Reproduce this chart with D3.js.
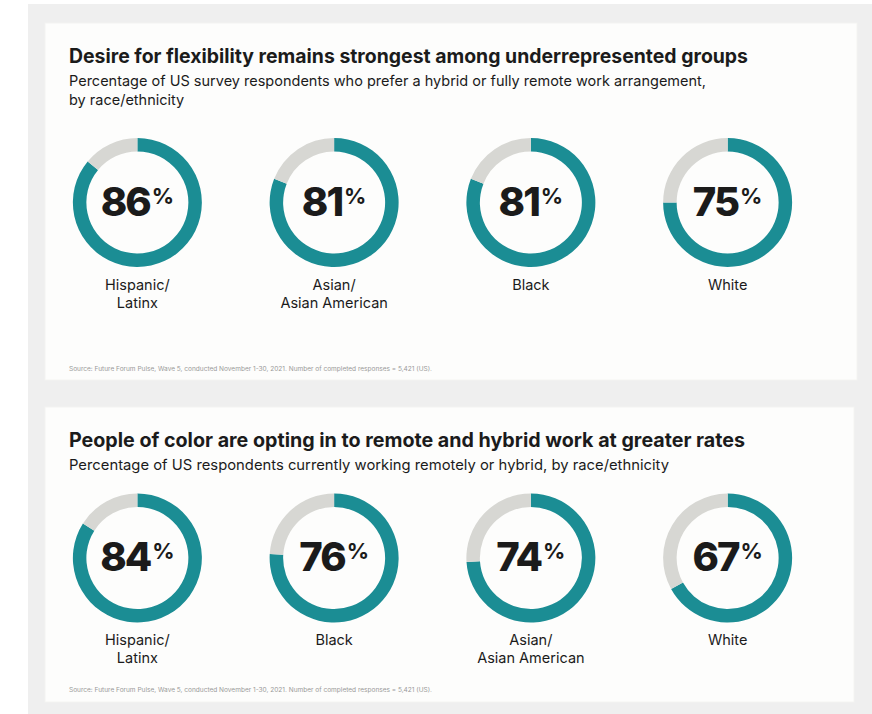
<!DOCTYPE html>
<html>
<head>
<meta charset="utf-8">
<script src="https://cdn.jsdelivr.net/npm/d3@7/dist/d3.min.js"></script>
<style>
  html, body { margin: 0; padding: 0; background: #ffffff; }
  svg { display: block; }
  text { font-family: Inter, "Noto Sans", sans-serif; fill: #1b1b1b; }
</style>
</head>
<body>
<svg id="chart" width="872" height="714"></svg>
<script>
// ---- data ----
const titles = [
  "Desire for flexibility remains strongest among underrepresented groups",
  "People of color are opting in to remote and hybrid work at greater rates"
];
const subtitles = [
  ["Percentage of US survey respondents who prefer a hybrid or fully remote work arrangement,", "by race/ethnicity"],
  ["Percentage of US respondents currently working remotely or hybrid, by race/ethnicity"]
];
const groupsPreferFlexible = ["Hispanic/\nLatinx", "Asian/\nAsian American", "Black", "White"];
const sharePreferFlexible = [86, 81, 81, 75];
const groupsWorkingFlexible = ["Hispanic/\nLatinx", "Black", "Asian/\nAsian American", "White"];
const shareWorkingFlexible = [84, 76, 74, 67];
const sourceNote = "Source: Future Forum Pulse, Wave 5, conducted November 1-30, 2021. Number of completed responses = 5,421 (US).";

// ---- layout ----
const svg = d3.select("#chart");
const TEAL = "#1b8d94", REST = "#d7d7d3";

svg.append("rect").attr("x", 28).attr("y", 4).attr("width", 844).attr("height", 710).attr("fill", "#efefef");

const panels = [
  { y: 23, h: 357, w: 812, title: titles[0], sub: subtitles[0], cats: groupsPreferFlexible, vals: sharePreferFlexible,
    titleY: 63, titleW: 679, subY: 86, subW: 637, donutY: 202.5, labelY: 290, noteY: 371 },
  { y: 407, h: 295, w: 809, title: titles[1], sub: subtitles[1], cats: groupsWorkingFlexible, vals: shareWorkingFlexible,
    titleY: 447, titleW: 676, subY: 470, subW: 600, donutY: 558, labelY: 645, noteY: 692 }
];

const x = d3.scaleBand().domain(d3.range(4)).range([39, 826]);
const outerR = 64.5, innerR = 51;
const arc = d3.arc().innerRadius(innerR).outerRadius(outerR);
const pie = d3.pie().sort(null).value(d => d.v);

panels.forEach(p => {
  const g = svg.append("g");
  g.append("rect").attr("x", 45).attr("y", p.y).attr("width", p.w).attr("height", p.h)
    .attr("fill", "#fdfdfc").attr("stroke", "#f4f4f2").attr("stroke-width", 1);

  g.append("text").attr("x", 69).attr("y", p.titleY)
    .attr("font-size", 19.5).attr("font-weight", 700)
    .attr("textLength", p.titleW).attr("lengthAdjust", "spacingAndGlyphs")
    .text(p.title);

  p.sub.forEach((line, i) => {
    const t = g.append("text").attr("x", 69).attr("y", p.subY + i * 19)
      .attr("font-size", 14.5).text(line);
    if (i === 0) t.attr("textLength", p.subW).attr("lengthAdjust", "spacingAndGlyphs");
  });

  p.vals.forEach((v, i) => {
    const cx = x(i) + x.bandwidth() / 2;
    const dg = g.append("g").attr("transform", `translate(${cx},${p.donutY})`);
    dg.selectAll("path")
      .data(pie([{ v: v, c: TEAL }, { v: 100 - v, c: REST }]))
      .join("path")
      .attr("d", arc)
      .attr("fill", d => d.data.c);

    const num = dg.append("text").attr("text-anchor", "middle").attr("y", 13)
      .attr("font-size", 40).attr("font-weight", 800).attr("letter-spacing", -2);
    num.append("tspan").text(v);
    num.append("tspan").attr("font-size", 22).attr("font-weight", 700)
      .attr("dy", -12).attr("dx", 2).attr("letter-spacing", 0).text("%");

    p.cats[i].split("\n").forEach((line, j) => {
      g.append("text").attr("x", cx).attr("y", p.labelY + j * 18)
        .attr("text-anchor", "middle").attr("font-size", 14.5).text(line);
    });
  });

  g.append("text").attr("x", 69).attr("y", p.noteY)
    .attr("font-size", 6).style("fill", "#9a9a9a")
    .attr("textLength", 363).attr("lengthAdjust", "spacingAndGlyphs")
    .text(sourceNote);
});
</script>
</body>
</html>
